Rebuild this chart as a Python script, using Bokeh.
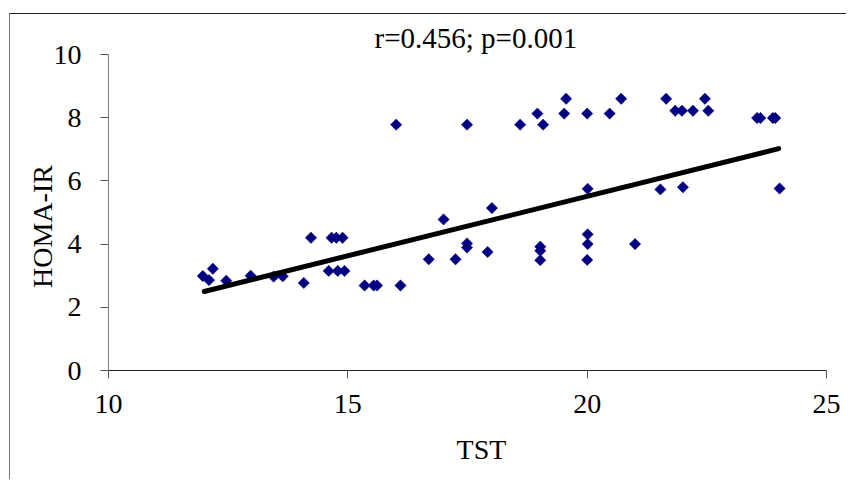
import numpy as np
from bokeh.plotting import figure
from bokeh.models import Range1d, FixedTicker
from bokeh.embed import file_html
from bokeh.resources import INLINE

# TST values (x) and HOMA-IR values (y)
tst = [11.97, 12.10, 12.18, 12.46, 12.97, 13.45, 13.64, 14.08, 14.23, 14.60,
       14.66, 14.76, 14.89, 14.79, 14.93, 15.35, 15.54, 15.61, 16.10, 16.01,
       16.69, 17.00, 17.25, 17.49, 17.49, 17.49, 17.92, 18.01, 18.60, 18.96,
       19.02, 19.02, 19.02, 19.08, 19.52, 19.56, 20.00, 20.01, 20.01, 20.01,
       20.00, 20.47, 20.71, 21.00, 21.53, 21.65, 21.84, 21.98, 22.00, 22.21,
       22.46, 22.53, 23.55, 23.62, 23.88, 23.93, 24.02]
homa = [2.99, 2.86, 3.22, 2.84, 3.00, 2.97, 2.98, 2.77, 4.20, 3.15,
        4.20, 4.20, 4.20, 3.15, 3.15, 2.69, 2.69, 2.69, 2.69, 7.78,
        3.52, 4.78, 3.52, 7.78, 4.02, 3.89, 3.75, 5.14, 7.78, 8.13,
        3.92, 3.79, 3.49, 7.78, 8.13, 8.60, 8.13, 5.75, 4.31, 4.00,
        3.50, 8.13, 8.60, 4.00, 5.73, 8.60, 8.22, 8.22, 5.80, 8.22,
        8.60, 8.22, 7.99, 7.99, 7.99, 7.99, 5.76]

# linear trend line end points
trend_x = [12.0, 24.0]
trend_y = [2.50, 7.02]

title_text = "r=0.456; p=0.001"
x_label = "TST"
y_label = "HOMA-IR"
x_ticks = [10, 15, 20, 25]
y_ticks = [0, 2, 4, 6, 8, 10]

FONT = "Liberation Serif"
NB = "\u00a0"

p = figure(width=836, height=465, output_backend="svg", toolbar_location=None,
           frame_width=718, frame_height=316,
           min_border_left=98, min_border_right=20, min_border_top=40, min_border_bottom=109,
           x_range=Range1d(10, 25), y_range=Range1d(0, 10))
p.styles = {"margin-top": "13px", "margin-left": "9px",
            "border-top": "1px solid #222", "border-left": "1px solid #777"}

p.title.text = title_text
p.title.align = "left"
p.title.offset = 266
p.title.standoff = 1
p.title.text_font = FONT
p.title.text_font_size = "29px"
p.title.text_font_style = "normal"
p.title.text_color = "black"

p.grid.visible = False
p.outline_line_color = None
p.background_fill_color = "white"
p.border_fill_color = "white"

for ax, ticks in ((p.xaxis[0], x_ticks), (p.yaxis[0], y_ticks)):
    ax.ticker = FixedTicker(ticks=ticks)
    ax.minor_tick_line_color = None
    ax.major_tick_in = 0
    ax.major_tick_out = 8
    ax.major_label_text_font = FONT
    ax.major_label_text_font_size = "28px"
    ax.major_label_text_color = "black"
    ax.axis_label_text_font = FONT
    ax.axis_label_text_font_size = "28px"
    ax.axis_label_text_font_style = "normal"
    ax.axis_label_text_color = "black"

p.xaxis.axis_label = NB * 4 + x_label
p.yaxis.axis_label = y_label + NB * 4

p.xaxis.axis_line_color = "#222222"
p.xaxis.major_tick_line_color = "#555555"
p.xaxis.major_label_standoff = 16
p.xaxis.axis_label_standoff = 18
p.yaxis.axis_line_color = "#808080"
p.yaxis.major_tick_line_color = "#555555"
p.yaxis.major_label_standoff = 19
p.yaxis.axis_label_standoff = -7

p.scatter(tst, homa, marker="square", angle=np.pi / 4, size=8,
          fill_color="#000080", line_color="#000080", line_width=0.5)
p.line(trend_x, trend_y, line_color="black", line_width=5, line_cap="round")

open("out.html", "w").write(file_html(p, INLINE))
